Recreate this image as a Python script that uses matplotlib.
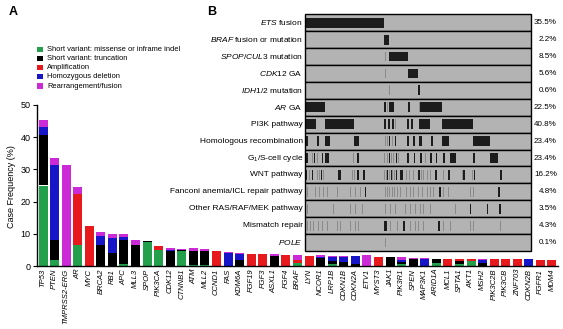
import matplotlib
matplotlib.use('Agg')
import matplotlib.pyplot as plt
from matplotlib.patches import Rectangle
import numpy as np

plt.rcParams['font.family'] = ['Liberation Sans', 'DejaVu Sans']
plt.rcParams['mathtext.fontset'] = 'custom'
plt.rcParams['mathtext.rm'] = 'Liberation Sans'
plt.rcParams['mathtext.it'] = 'Liberation Sans:italic'
plt.rcParams['mathtext.bf'] = 'Liberation Sans:bold'

# ---- panel A data: case frequency (%) per gene, split by alteration type
genes = ['TP53', 'PTEN', 'TMPRSS2-ERG', 'AR', 'MYC', 'BRCA2', 'RB1', 'APC', 'MLL3', 'SPOP',
         'PIK3CA', 'CDK12', 'CTNNB1', 'ATM', 'MLL2', 'CCND1', 'FAS', 'KDM6A', 'FGF19', 'FGF3',
         'ASXL1', 'FGF4', 'BRAF', 'LYN', 'NCOR1', 'LRP1B', 'CDKN1B', 'CDKN2A', 'ETV1', 'MYST3',
         'JAK1', 'PIK3R1', 'SPEN', 'MAP3K1', 'ARID1A', 'MCL1', 'SPTA1', 'AKT1', 'MSH2', 'PIK3C2B',
         'PIK3CB', 'ZNF703', 'CDKN2B', 'FGFR1', 'MDM4']
missense = [25.0, 1.9, 0, 6.5, 0, 0, 0, 0.6, 0, 7.5,
            5.0, 0, 4.7, 0.3, 0.3, 0, 0, 0, 0, 0,
            0, 0, 1.0, 0, 0, 0.5, 0, 0, 0, 0,
            0, 0.5, 0, 0, 0.9, 0, 0.5, 1.6, 0, 0,
            0, 0, 0, 0, 0]
truncation = [15.6, 6.1, 0, 0, 0, 6.5, 3.9, 7.4, 6.5, 0.2,
              0, 4.8, 0.3, 4.4, 4.4, 0, 0, 2.0, 0, 0,
              3.1, 0, 0, 0, 2.4, 1.1, 1.3, 0.6, 0, 0,
              2.8, 0.8, 2.2, 0, 1.3, 0, 0.9, 0, 0.9, 0,
              0, 0, 0, 0, 0]
amplification = [0, 0, 0, 16.0, 12.4, 0, 0, 0, 0, 0,
                 1.3, 0, 0, 0, 0, 4.7, 0, 0, 3.7, 3.7,
                 0, 3.4, 0.8, 3.1, 0, 0, 0, 0, 0, 2.8,
                 0, 0, 0, 0, 0, 2.2, 0.8, 0.6, 0, 2.2,
                 2.2, 2.2, 0, 1.9, 1.9]
deletion = [2.6, 23.5, 0, 0, 0, 2.8, 4.8, 1.1, 0, 0,
            0, 0.3, 0, 0, 0, 0, 4.0, 1.8, 0, 0,
            0, 0, 0, 0, 0.3, 1.2, 1.5, 2.5, 0, 0,
            0, 0.5, 0, 2.1, 0, 0, 0, 0, 0.9, 0,
            0, 0, 2.2, 0, 0]
fusion = [2.2, 2.0, 31.5, 2.0, 0, 1.2, 1.2, 0.8, 1.5, 0,
          0, 0.6, 0.4, 1.0, 0.7, 0, 0.4, 0.3, 0, 0,
          0.5, 0, 1.6, 0, 0.7, 0.3, 0.3, 0, 3.4, 0,
          0, 1.0, 0.3, 0.4, 0, 0, 0, 0, 0.4, 0,
          0, 0, 0, 0, 0]

alt_labels = ['Short variant: missense or inframe indel', 'Short variant: truncation',
              'Amplification', 'Homozygous deletion', 'Rearrangement/fusion']
alt_colors = ['#22a04b', '#000000', '#e8191c', '#1616c8', '#cc2ad6']

# ---- panel B data: pathway rows, % of cases, marks as (start %, width %, shade)
# shade 2 = dark block, 1 = light line
row_labels = [r'$\it{ETS}$ fusion', r'$\it{BRAF}$ fusion or mutation', r'$\it{SPOP/CUL3}$ mutation',
              r'$\it{CDK12}$ GA', r'$\it{IDH1/2}$ mutation', r'$\it{AR}$ GA', 'PI3K pathway',
              'Homologous recombination', r'G$_1$/S-cell cycle', 'WNT pathway',
              'Fanconi anemia/ICL repair pathway', 'Other RAS/RAF/MEK pathway', 'Mismatch repair',
              r'$\it{POLE}$']
row_pct = ['35.5%', '2.2%', '8.5%', '5.6%', '0.6%', '22.5%', '40.8%', '23.4%', '23.4%',
           '16.2%', '4.8%', '3.5%', '4.3%', '0.1%']

ets_marks = [(0, 35.2, 2)]
braf_marks = [(35.1, 2.2, 2)]
spop_marks = [(35.3, 0.4, 1), (37.3, 8.1, 2)]
cdk12_marks = [(0.1, 0.4, 1), (35.3, 0.4, 1), (37.0, 0.4, 1), (45.4, 4.7, 2)]
idh_marks = [(37.4, 0.4, 1), (50.2, 0.5, 2)]
ar_marks = [(0.3, 8.5, 2), (35.1, 0.8, 2), (36.3, 0.4, 1), (37.3, 2.1, 2), (45.7, 0.7, 2),
            (50.3, 0.4, 1), (50.9, 9.8, 2)]
pi3k_marks = [(0.6, 4.4, 2), (8.8, 12.9, 2), (35.2, 0.6, 2), (36.9, 0.6, 2), (38.6, 0.6, 2),
              (40.0, 0.4, 1), (45.3, 0.9, 2), (46.7, 0.9, 2), (50.6, 4.7, 2), (60.7, 13.7, 2)]
hr_marks = [(0.6, 0.9, 2), (5.3, 0.9, 2), (8.9, 2.3, 2), (21.9, 2.1, 2), (35.3, 0.4, 1),
            (36.2, 0.4, 1), (37.1, 0.6, 2), (38.4, 0.4, 1), (39.8, 0.7, 2), (45.3, 0.6, 2),
            (46.7, 0.4, 1), (47.9, 0.6, 2), (50.6, 1.0, 2), (55.6, 1.1, 2), (60.7, 2.8, 2),
            (74.3, 7.4, 2)]
g1s_marks = [(0.1, 1.5, 2), (3.1, 0.4, 1), (4.1, 0.6, 2), (5.3, 0.4, 1), (7.5, 0.7, 2),
             (8.9, 2.0, 2), (21.5, 0.4, 1), (22.9, 1.2, 2), (35.1, 0.4, 1), (36.2, 0.4, 1),
             (37.0, 0.5, 2), (38.1, 0.4, 1), (39.1, 0.4, 1), (40.3, 0.5, 2), (41.3, 0.4, 1),
             (45.3, 0.7, 2), (46.7, 0.4, 1), (48.2, 0.5, 2), (50.9, 0.7, 2), (53.1, 0.4, 1),
             (55.3, 0.7, 2), (57.8, 0.6, 2), (61.2, 0.6, 2), (64.1, 2.7, 2), (74.4, 0.9, 2),
             (81.8, 3.6, 2)]
wnt_marks = [(0.6, 0.6, 2), (1.8, 0.4, 1), (3.1, 0.6, 2), (5.3, 0.4, 1), (6.5, 0.4, 1),
             (7.1, 0.6, 2), (8.2, 0.4, 1), (14.8, 1.1, 2), (20.7, 0.4, 1), (21.9, 0.4, 1),
             (23.3, 0.7, 2), (25.9, 0.9, 2), (35.1, 0.4, 1), (35.8, 0.4, 1), (36.4, 0.5, 2),
             (37.2, 0.4, 1), (37.9, 0.5, 2), (38.7, 0.4, 1), (39.4, 0.4, 1), (40.2, 0.5, 2),
             (42.0, 1.2, 2), (44.9, 0.4, 1), (46.2, 0.4, 1), (47.9, 0.4, 1), (50.1, 0.6, 2),
             (51.2, 0.4, 1), (52.3, 0.4, 1), (53.8, 0.4, 1), (55.3, 0.4, 1), (57.5, 0.7, 2),
             (61.2, 0.4, 1), (63.4, 0.7, 2), (69.3, 0.4, 1), (70.0, 0.6, 2), (74.0, 0.4, 1),
             (74.7, 0.6, 2), (86.2, 0.9, 2)]
fanconi_marks = [(0.9, 0.4, 1), (2.6, 0.4, 1), (4.5, 0.4, 1), (6.5, 0.4, 1), (8.2, 0.4, 1),
                 (10.0, 0.4, 1), (14.1, 0.4, 1), (19.9, 0.4, 1), (22.2, 0.4, 1), (24.4, 0.4, 1),
                 (26.6, 0.5, 2), (35.4, 0.4, 1), (36.5, 0.4, 1), (37.3, 0.4, 1), (38.4, 0.4, 1),
                 (39.4, 0.4, 1), (40.6, 0.4, 1), (42.0, 0.4, 1), (44.9, 0.4, 1), (46.4, 0.4, 1),
                 (47.9, 0.4, 1), (50.1, 0.4, 1), (51.6, 0.4, 1), (53.8, 0.4, 1), (55.3, 0.4, 1),
                 (56.7, 0.4, 1), (59.4, 0.6, 2), (61.2, 0.4, 1), (63.4, 0.4, 1), (72.9, 0.4, 1),
                 (74.4, 0.4, 1), (85.4, 0.6, 2)]
ras_marks = [(0.9, 0.4, 1), (2.6, 0.4, 1), (12.6, 0.4, 1), (19.9, 0.4, 1), (22.2, 0.4, 1),
             (25.1, 0.5, 1), (35.4, 0.4, 1), (37.6, 0.4, 1), (39.8, 0.4, 1), (44.2, 0.4, 1),
             (46.4, 0.4, 1), (48.7, 0.4, 1), (50.9, 0.4, 1), (52.3, 0.4, 1), (55.3, 0.4, 1),
             (58.2, 0.4, 1), (60.4, 0.4, 1), (62.6, 0.4, 1), (66.3, 0.4, 1), (72.9, 0.6, 2),
             (80.3, 0.6, 2), (85.9, 0.6, 2)]
mmr_marks = [(0.9, 0.4, 1), (2.3, 0.4, 1), (3.8, 0.4, 1), (6.0, 0.4, 1), (7.5, 0.4, 1),
             (9.7, 0.4, 1), (14.1, 0.4, 1), (15.6, 0.4, 1), (19.9, 0.4, 1), (22.2, 0.4, 1),
             (23.6, 0.4, 1), (35.0, 1.4, 2), (37.6, 0.4, 1), (40.6, 0.4, 1), (43.5, 0.7, 2),
             (46.4, 0.4, 1), (48.7, 0.4, 1), (50.1, 0.4, 1), (52.3, 0.4, 1), (58.9, 0.8, 2),
             (61.2, 0.4, 1), (62.6, 0.4, 1), (64.1, 0.4, 1), (72.9, 0.4, 1), (74.4, 0.4, 1),
             (86.2, 0.4, 1)]
pole_marks = [(35.6, 0.3, 1)]

row_marks = [ets_marks, braf_marks, spop_marks, cdk12_marks, idh_marks, ar_marks, pi3k_marks,
             hr_marks, g1s_marks, wnt_marks, fanconi_marks, ras_marks, mmr_marks, pole_marks]

W, H = 563, 329
fig = plt.figure(figsize=(W / 100, H / 100), dpi=100)

# ---- panel A: stacked bars
ax = fig.add_axes([37 / W, 1 - 266 / H, (558 - 37) / W, (266 - 105) / H])
ax.patch.set_alpha(0)
x = np.arange(len(genes))
bottom = np.zeros(len(genes))
for vals, col in zip([missense, truncation, amplification, deletion, fusion], alt_colors):
    vals = np.array(vals)
    ax.bar(x, vals, width=0.78, bottom=bottom, color=col, linewidth=0)
    bottom += vals
ax.set_xlim(-0.52, 44.52)
ax.set_ylim(0, 50)
ax.set_yticks(range(0, 51, 10))
ax.tick_params(axis='y', labelsize=6.5, length=3, width=0.8, pad=1.5)
ax.set_xticks(x)
ax.set_xticklabels(genes, rotation=90, fontstyle='italic', fontsize=5.5)
ax.tick_params(axis='x', length=0, pad=2)
for s in ['top', 'right']:
    ax.spines[s].set_visible(False)
for s in ['left', 'bottom']:
    ax.spines[s].set_linewidth(1.0)
fig.text(12 / W, 1 - 187 / H, 'Case Frequency (%)', rotation=90, ha='center', va='center',
         fontsize=6.5)

# legend
for i, (lab, col) in enumerate(zip(alt_labels, alt_colors)):
    yc = 49.2 + i * 9.2
    fig.patches.append(Rectangle((37 / W, 1 - (yc + 2.6) / H), 6 / W, 5.2 / H,
                                 transform=fig.transFigure, facecolor=col, edgecolor='none'))
    fig.text(47 / W, 1 - yc / H, lab, ha='left', va='center', fontsize=5.4)

# ---- panel B: pathway rows
hx = fig.add_axes([304.7 / W, 1 - 251 / H, 226.6 / W, (251 - 14.3) / H])
hx.set_xlim(0, 100)
hx.set_ylim(len(row_labels), 0)
hx.axis('off')
shades = {1: '#8a8a8a', 2: '#1c1c1c'}
for i, marks in enumerate(row_marks):
    hx.add_patch(Rectangle((0, i), 100, 1, facecolor='#b3b3b3', edgecolor='none'))
    for start, width, shade in marks:
        hx.barh(i + 0.5, width, left=start, height=0.58, color=shades[shade], linewidth=0)
    hx.add_patch(Rectangle((0, i), 100, 1, facecolor='none', edgecolor='black', linewidth=1.0,
                           clip_on=False))
    hx.text(-0.8, i + 0.5, row_labels[i], ha='right', va='center', fontsize=6)
    hx.text(111.3, i + 0.5, row_pct[i], ha='right', va='center', fontsize=5.8)

fig.text(13 / W, 1 - 12 / H, 'A', fontsize=9, fontweight='bold', ha='center', va='center')
fig.text(211.5 / W, 1 - 12 / H, 'B', fontsize=9, fontweight='bold', ha='center', va='center')

fig.savefig('out.png', dpi=100)
